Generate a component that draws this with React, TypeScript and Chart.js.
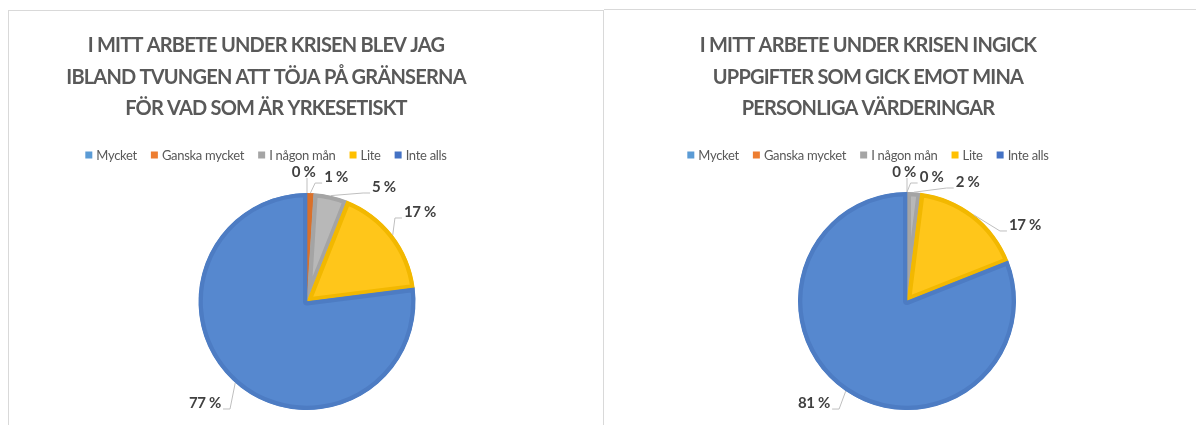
import React, { useEffect, useRef } from "react";
import { Chart, registerables } from "chart.js";

Chart.register(...registerables);

// ---------- data ----------
const categories = ["Mycket", "Ganska mycket", "I någon mån", "Lite", "Inte alls"];
const valuesLeft = [0, 1, 5, 17, 77];
const valuesRight = [0, 0, 2, 17, 81];
const titleLeft = [
  "I MITT ARBETE UNDER KRISEN BLEV JAG",
  "IBLAND TVUNGEN ATT TÖJA PÅ GRÄNSERNA",
  "FÖR VAD SOM ÄR YRKESETISKT",
];
const titleRight = [
  "I MITT ARBETE UNDER KRISEN INGICK",
  "UPPGIFTER SOM GICK EMOT MINA",
  "PERSONLIGA VÄRDERINGAR",
];

// ---------- styles ----------
const legendColors = ["#5b9bd5", "#ed7d31", "#a5a5a5", "#ffc000", "#4472c4"];
const fillColors = ["#62a0d8", "#ef8640", "#b8b8b8", "#ffc61a", "#5688cf"];
const borderColors = ["#5090c8", "#d9702a", "#a4a4a4", "#f2b800", "#4d7cc3"];
// label offsets relative to the arc's outer mid-point
const labelOffsetsLeft = [[-3.5, -21], [25.6, -16], [53.3, -8.6], [27.3, -23], [-30.3, 20.1]];
const labelOffsetsRight = [[-3, -20], [24.5, -15], [53.7, -10.2], [51.2, 10.1], [-31.7, 11.9]];

const FONT = 'Lato, "Liberation Sans", sans-serif';

type PanelProps = {
  values: number[];
  title: string[];
  offsets: number[][];
  left: number;
  top: number;
  width: number;
  height: number;
  padding: { top: number; bottom: number; left: number; right: number };
  centerX: number; // page x for title / legend center
};

function PiePanel(p: PanelProps) {
  const ref = useRef<HTMLCanvasElement | null>(null);
  useEffect(() => {
    if (!ref.current) return;
    const cx = p.centerX - p.left;
    const headerPlugin = {
      id: "header",
      afterDraw(chart: any) {
        const ctx = chart.ctx as CanvasRenderingContext2D;
        ctx.save();
        // title
        const ts = 20;
        ctx.font = `bold ${ts}px ${FONT}`;
        (ctx as any).letterSpacing = "-0.8px";
        ctx.fillStyle = "#595959";
        ctx.textAlign = "center";
        ctx.textBaseline = "alphabetic";
        const lineCenters = [44.5, 76.5, 108];
        p.title.forEach((t, i) => {
          ctx.fillText(t, cx, lineCenters[i] - p.top + 0.36 * ts);
        });
        // legend
        const ls = 13;
        ctx.font = `${ls}px ${FONT}`;
        (ctx as any).letterSpacing = "-0.3px";
        const box = 7;
        const gapText = 4;
        const gapItem = 14;
        const widths = categories.map((c) => ctx.measureText(c).width);
        const total =
          widths.reduce((a, w) => a + box + gapText + w, 0) + gapItem * (categories.length - 1);
        let x = cx - total / 2;
        const ly = 155 - p.top;
        ctx.textAlign = "left";
        categories.forEach((c, i) => {
          ctx.fillStyle = legendColors[i];
          ctx.fillRect(x, ly - box / 2, box, box);
          x += box + gapText;
          ctx.fillStyle = "#595959";
          ctx.fillText(c, x, ly + 0.36 * ls);
          x += widths[i] + gapItem;
        });
        ctx.restore();
      },
    };
    const labelPlugin = {
      id: "pieLabels",
      afterDatasetsDraw(chart: any) {
        const ctx = chart.ctx as CanvasRenderingContext2D;
        const meta = chart.getDatasetMeta(0);
        const data = chart.data.datasets[0].data as number[];
        ctx.save();
        const fs = 15;
        ctx.font = `bold ${fs}px ${FONT}`;
        (ctx as any).letterSpacing = "-0.3px";
        ctx.textAlign = "center";
        ctx.textBaseline = "alphabetic";
        meta.data.forEach((arc: any, i: number) => {
          const { x, y, startAngle, endAngle, outerRadius } = arc.getProps(
            ["x", "y", "startAngle", "endAngle", "outerRadius"],
            true
          );
          const mid = (startAngle + endAngle) / 2;
          const ax = x + Math.cos(mid) * outerRadius;
          const ay = y + Math.sin(mid) * outerRadius;
          const [dx, dy] = p.offsets[i];
          const lx = ax + dx;
          const ly = ay + dy;
          const text = `${Math.round(data[i])} %`;
          const w = ctx.measureText(text).width;
          const hw = w / 2;
          ctx.strokeStyle = "#bfbfbf";
          ctx.lineWidth = 1;
          ctx.beginPath();
          if (Math.abs(lx - ax) < hw) {
            ctx.moveTo(ax, ay);
            ctx.lineTo(ax, ly + 6);
          } else {
            const side = lx > ax ? -1 : 1;
            const ex = lx + side * (hw + 2);
            const ey = ly + 6;
            const tx = ex + side * 7;
            ctx.moveTo(ax, ay);
            ctx.lineTo(tx, ey);
            ctx.lineTo(ex, ey);
          }
          ctx.stroke();
          ctx.fillStyle = "#404040";
          ctx.fillText(text, lx, ly + 0.36 * fs);
        });
        ctx.restore();
      },
    };
    const chart = new Chart(ref.current, {
      type: "pie",
      data: {
        labels: categories,
        datasets: [
          {
            data: p.values,
            backgroundColor: fillColors,
            borderColor: borderColors,
            borderWidth: 4,
            borderAlign: "inner",
            hoverBorderWidth: 4,
            hoverOffset: 0,
          } as any,
        ],
      },
      options: {
        animation: false,
        responsive: false,
        maintainAspectRatio: false,
        devicePixelRatio: 1,
        events: [],
        layout: { padding: p.padding },
        plugins: {
          legend: { display: false },
          title: { display: false },
          tooltip: { enabled: false },
        },
      } as any,
      plugins: [labelPlugin, headerPlugin],
    });
    return () => chart.destroy();
  }, []);
  return (
    <canvas
      ref={ref}
      width={p.width}
      height={p.height}
      style={{
        position: "absolute",
        left: p.left,
        top: p.top,
        width: p.width,
        height: p.height,
      }}
    />
  );
}

export default function App() {
  return (
    <div
      style={{
        position: "absolute",
        left: 0,
        top: 0,
        width: 1196,
        height: 425,
        overflow: "hidden",
        background: "#ffffff",
      }}
    >
      <div
        style={{
          position: "absolute",
          left: 8,
          top: 10,
          width: 596,
          height: 430,
          boxSizing: "border-box",
          borderLeft: "1px solid #d9d9d9",
          borderTop: "1px solid #d9d9d9",
          borderRight: "1px solid #d9d9d9",
        }}
      />
      <div
        style={{
          position: "absolute",
          left: 604,
          top: 9,
          width: 600,
          height: 430,
          boxSizing: "border-box",
          borderTop: "1px solid #d9d9d9",
        }}
      />
      <PiePanel
        values={valuesLeft}
        title={titleLeft}
        offsets={labelOffsetsLeft}
        left={8}
        top={10}
        width={596}
        height={415}
        padding={{ top: 183, bottom: 15, left: 2, right: 0 }}
        centerX={266}
      />
      <PiePanel
        values={valuesRight}
        title={titleRight}
        offsets={labelOffsetsRight}
        left={604}
        top={9}
        width={592}
        height={416}
        padding={{ top: 183, bottom: 15, left: 14, right: 0 }}
        centerX={868}
      />
    </div>
  );
}
